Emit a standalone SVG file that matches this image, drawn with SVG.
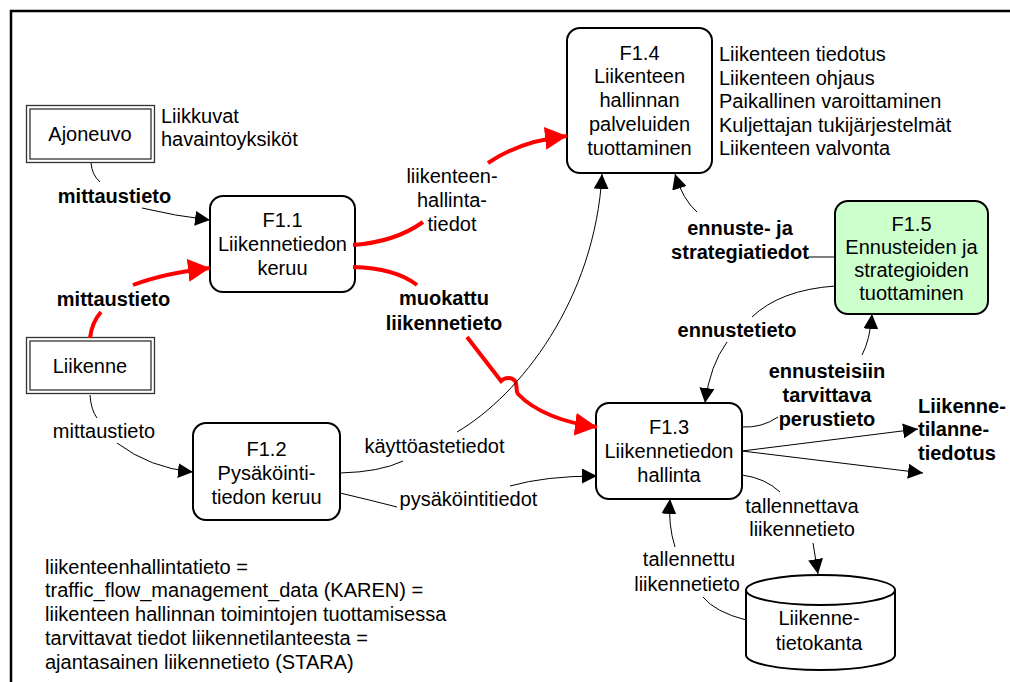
<svg xmlns="http://www.w3.org/2000/svg" width="1010" height="682" viewBox="0 0 1010 682">
<style>
text{font-family:"Liberation Sans",Arial,sans-serif;font-size:20px;fill:#000}
.c{text-anchor:middle}
.b{font-weight:bold}
.node{fill:#fff;stroke:#000;stroke-width:2}
.ext{fill:none;stroke:#333;stroke-width:1.3}
.ln{fill:none;stroke:#000;stroke-width:1}
.red{fill:none;stroke:#f00;stroke-width:4}
</style>
<defs>
<marker id="ab" markerUnits="userSpaceOnUse" markerWidth="15" markerHeight="15" refX="15" refY="7.5" orient="auto"><path d="M0,0 L15,7.5 L0,15 z" fill="#000"/></marker>
<marker id="ar" markerUnits="userSpaceOnUse" markerWidth="22" markerHeight="23" refX="22" refY="11.5" orient="auto"><path d="M0,0 L22,11.5 L0,23 z" fill="#f00"/></marker>
</defs>
<rect width="1010" height="682" fill="#fff"/>
<path d="M11,682 V11 H1012" fill="none" stroke="#000" stroke-width="2.5"/>

<g id="ajoneuvo">
<rect class="ext" x="26.5" y="105.5" width="128" height="57"/>
<rect class="ext" x="30" y="109" width="121" height="50"/>
<text class="c" x="90" y="141">Ajoneuvo</text>
<text x="161" y="122.5">Liikkuvat</text>
<text x="161" y="146">havaintoyksiköt</text>
</g>
<g id="liikenne">
<rect class="ext" x="26.5" y="337.5" width="128" height="56"/>
<rect class="ext" x="30" y="341" width="121" height="49"/>
<text class="c" x="90" y="372.5">Liikenne</text>
</g>
<g id="f11">
<rect class="node" x="210" y="196" width="145" height="96" rx="13"/>
<text class="c" x="282.5" y="227">F1.1</text>
<text class="c" x="282.5" y="251">Liikennetiedon</text>
<text class="c" x="282.5" y="275">keruu</text>
</g>
<g id="f12">
<rect class="node" x="193" y="423" width="147" height="97" rx="13"/>
<text class="c" x="266.5" y="456">F1.2</text>
<text class="c" x="266.5" y="480">Pysäköinti-</text>
<text class="c" x="266.5" y="503.5">tiedon keruu</text>
</g>
<g id="f13">
<rect class="node" x="596" y="403" width="146" height="96" rx="13"/>
<text class="c" x="669" y="434">F1.3</text>
<text class="c" x="669" y="458">Liikennetiedon</text>
<text class="c" x="669" y="482">hallinta</text>
</g>
<g id="f14">
<rect class="node" x="567" y="28" width="145" height="145" rx="13"/>
<text class="c" x="639.5" y="59.5">F1.4</text>
<text class="c" x="639.5" y="83.3">Liikenteen</text>
<text class="c" x="639.5" y="107">hallinnan</text>
<text class="c" x="639.5" y="130.8">palveluiden</text>
<text class="c" x="639.5" y="154.5">tuottaminen</text>
<text x="719" y="61">Liikenteen tiedotus</text>
<text x="719" y="84.6">Liikenteen ohjaus</text>
<text x="719" y="108.2">Paikallinen varoittaminen</text>
<text x="719" y="131.8">Kuljettajan tukijärjestelmät</text>
<text x="719" y="155.4">Liikenteen valvonta</text>
</g>
<g id="f15">
<rect class="node" x="835" y="201" width="153" height="113" rx="13" style="fill:#ccffcc"/>
<text class="c" x="911.5" y="231">F1.5</text>
<text class="c" x="911.5" y="254">Ennusteiden ja</text>
<text class="c" x="911.5" y="277">strategioiden</text>
<text class="c" x="911.5" y="300">tuottaminen</text>
</g>
<g id="tietokanta">
<path class="node" d="M746,590 A74.5,15 0 0 1 895,590 V655 A74.5,15 0 0 1 746,655 Z"/>
<path d="M746,590 A74.5,15 0 0 0 895,590" fill="none" stroke="#000" stroke-width="2"/>
<text class="c" x="819" y="625">Liikenne-</text>
<text class="c" x="819" y="650">tietokanta</text>
</g>

<g id="connectors">
<path class="ln" d="M91,163 Q92,175 100,182"/>
<path class="ln" d="M142,208 Q175,216 210,220" marker-end="url(#ab)"/>
<path class="red" d="M90,338 Q92,322 101,312"/>
<path class="red" d="M133,285 Q165,273 210,268" marker-end="url(#ar)"/>
<path class="red" d="M353,245 Q395,242 423,222"/>
<path class="red" d="M488,163 Q520,141 567,136" marker-end="url(#ar)"/>
<path class="red" d="M353,267 Q395,268 417,285"/>
<path class="red" d="M467,337 L501,381 C505,377 512,377 515,381 C518,385 515,390 518,394 C535,412 565,423 597,427" marker-end="url(#ar)"/>
<path class="ln" d="M340,473 Q380,472 403,461"/>
<path class="ln" d="M457,432 C520,395 595,300 602,174" marker-end="url(#ab)"/>
<path class="ln" d="M90,395 Q91,410 97,418"/>
<path class="ln" d="M117,443 Q150,468 193,472" marker-end="url(#ab)"/>
<path class="ln" d="M340,493 Q370,500 397,507"/>
<path class="ln" d="M510,486 Q545,476 597,476" marker-end="url(#ab)"/>
<path class="ln" d="M808,257 L835,257"/>
<path class="ln" d="M697,212 Q683,200 675,174" marker-end="url(#ab)"/>
<path class="ln" d="M835,286 Q780,290 752,317"/>
<path class="ln" d="M727,342 Q710,365 705,403" marker-end="url(#ab)"/>
<path class="ln" d="M742,427 Q762,428 778,417"/>
<path class="ln" d="M862,355 Q870,340 872,314" marker-end="url(#ab)"/>
<path class="ln" d="M742,451 L918,429" marker-end="url(#ab)"/>
<path class="ln" d="M742,451 L923,473" marker-end="url(#ab)"/>
<path class="ln" d="M742,475 Q765,478 780,492"/>
<path class="ln" d="M813,543 L818,574" marker-end="url(#ab)"/>
<path class="ln" d="M746,620 Q715,612 703,597"/>
<path class="ln" d="M675,547 Q668,525 670,499" marker-end="url(#ab)"/>
</g>

<g id="labels">
<text class="c b" x="114.5" y="202.5">mittaustieto</text>
<text class="c b" x="113.5" y="306">mittaustieto</text>
<text class="c" x="104" y="437.5">mittaustieto</text>
<text class="c" x="452" y="182.5">liikenteen-</text>
<text class="c" x="452" y="207">hallinta-</text>
<text class="c" x="452" y="231">tiedot</text>
<text class="c b" x="444" y="305">muokattu</text>
<text class="c b" x="444" y="329.5">liikennetieto</text>
<text class="c" x="434.5" y="452.5">käyttöastetiedot</text>
<text class="c" x="468.5" y="506">pysäköintitiedot</text>
<text class="c b" x="740" y="234.5">ennuste- ja</text>
<text class="c b" x="740" y="258.5">strategiatiedot</text>
<text class="c b" x="737" y="337">ennustetieto</text>
<text class="c b" x="827" y="377.5">ennusteisiin</text>
<text class="c b" x="827" y="402">tarvittava</text>
<text class="c b" x="827" y="426">perustieto</text>
<text class="b" x="918" y="412.5">Liikenne-</text>
<text class="b" x="918" y="436">tilanne-</text>
<text class="b" x="918" y="459.5">tiedotus</text>
<text class="c" x="802" y="512.5">tallennettava</text>
<text class="c" x="802" y="536">liikennetieto</text>
<text class="c" x="689" y="566">tallennettu</text>
<text class="c" x="687" y="590.5">liikennetieto</text>
</g>
<g id="note">
<text x="45" y="573.5">liikenteenhallintatieto =</text>
<text x="45" y="597.2">traffic_flow_management_data (KAREN) =</text>
<text x="45" y="621">liikenteen hallinnan toimintojen tuottamisessa</text>
<text x="45" y="644.7">tarvittavat tiedot liikennetilanteesta =</text>
<text x="45" y="668.5">ajantasainen liikennetieto (STARA)</text>
</g>
</svg>
